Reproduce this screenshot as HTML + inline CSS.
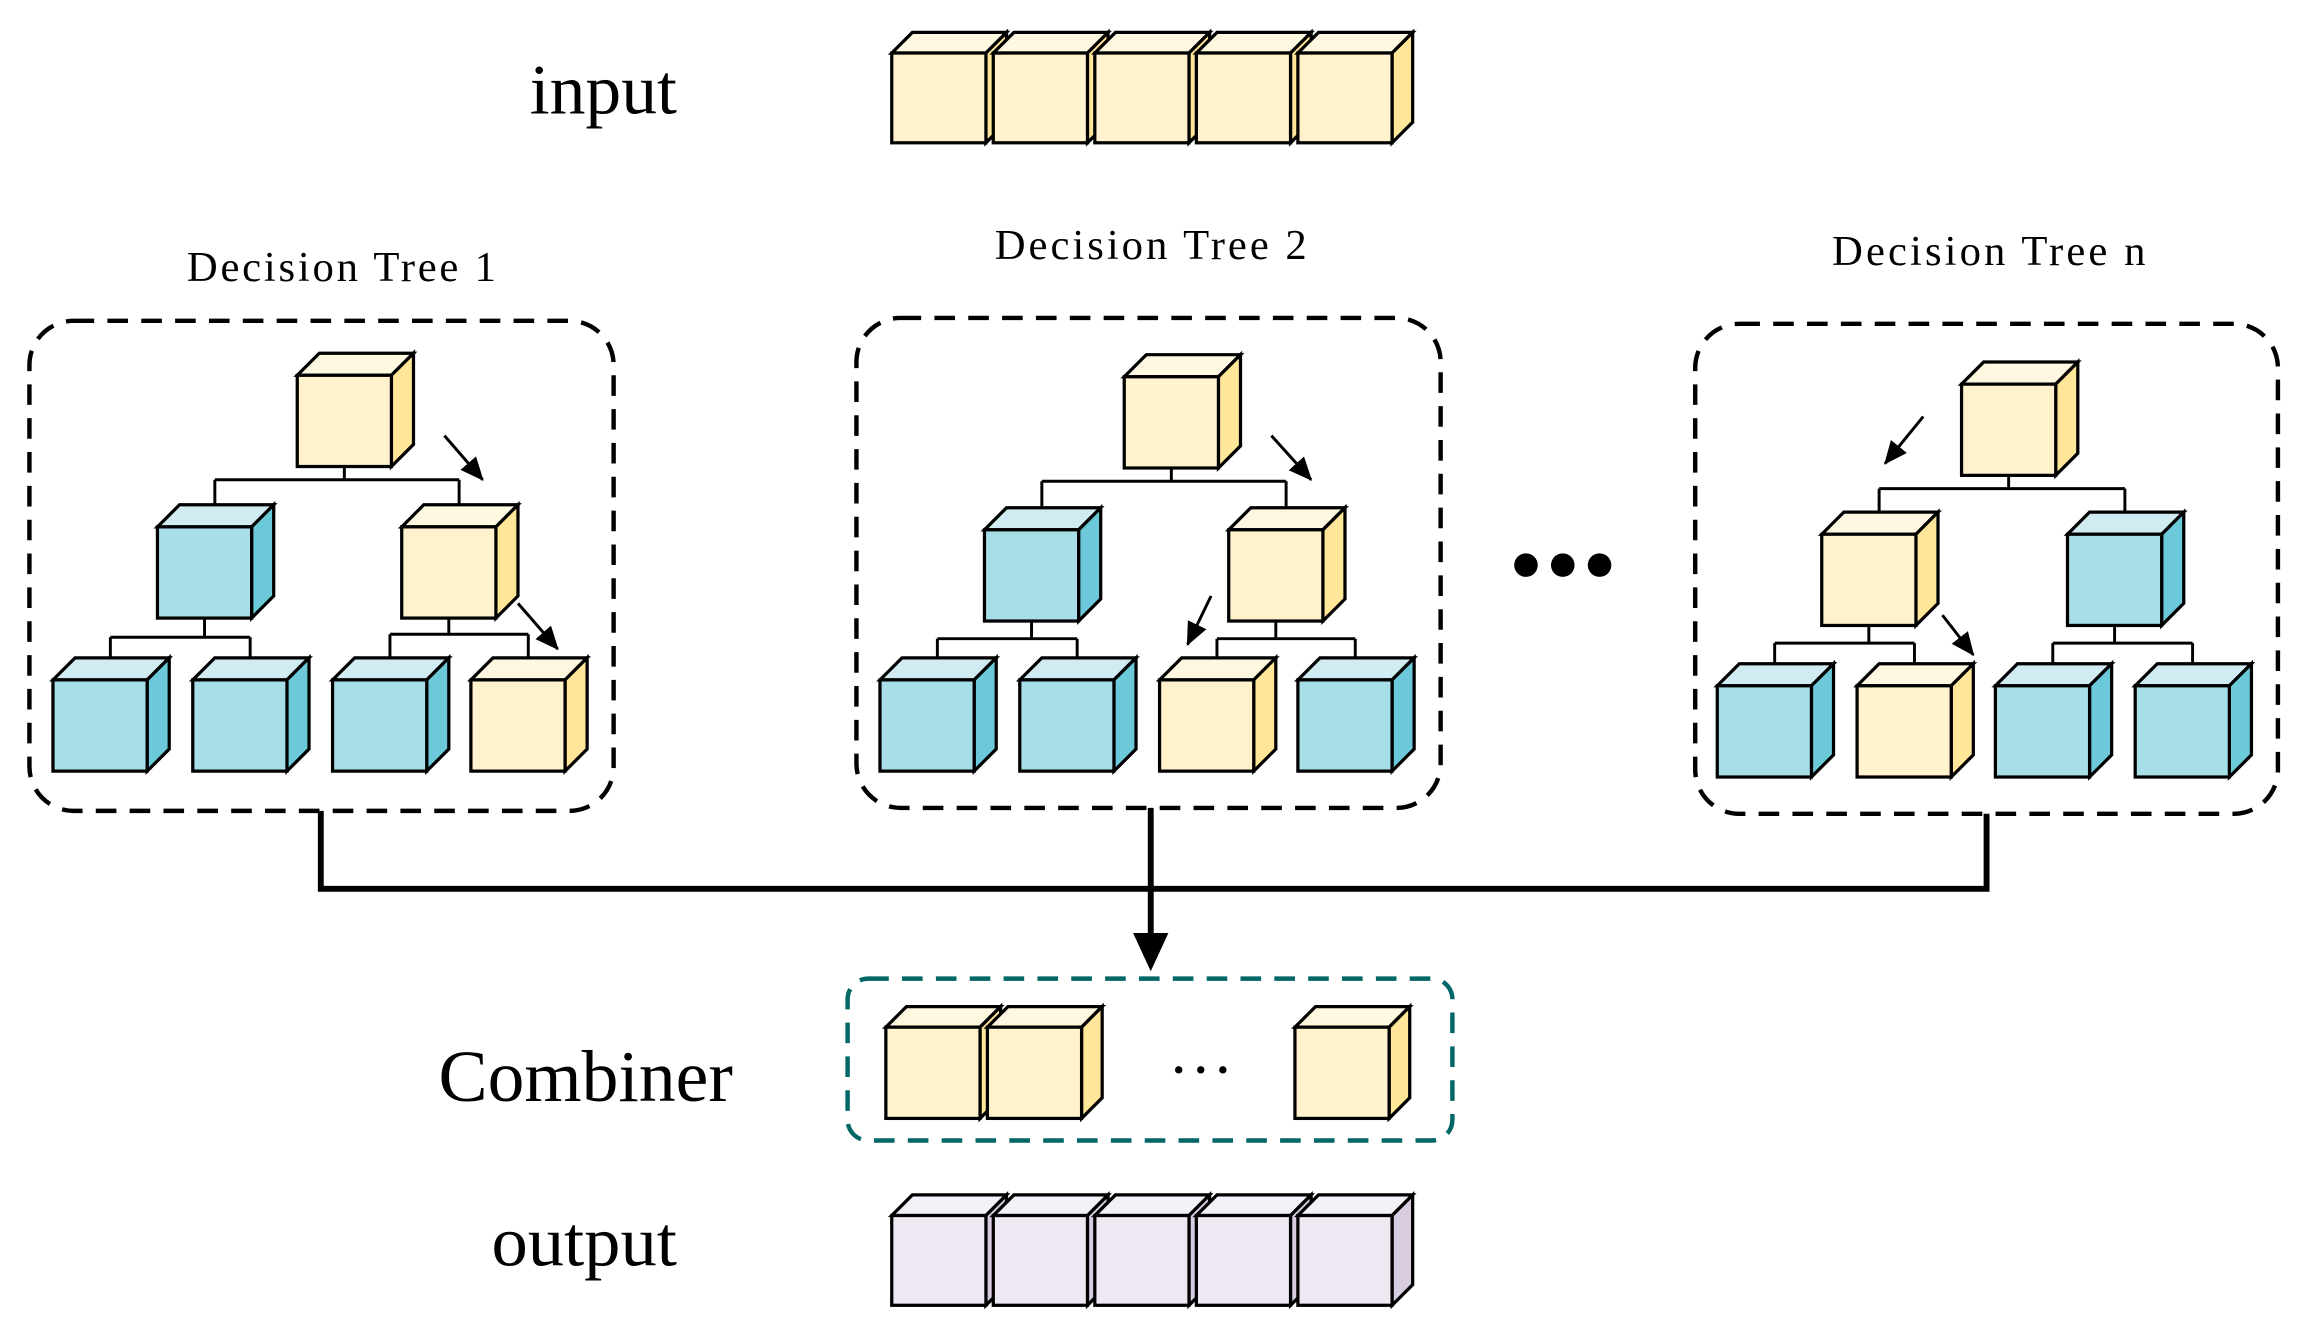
<!DOCTYPE html>
<html><head><meta charset="utf-8"><style>
html,body{margin:0;padding:0;background:#fff;}
svg{display:block;}
text{font-family:"Liberation Serif",serif;fill:#000;}
</style></head><body>
<svg id="s" width="2300" height="1323" viewBox="0 0 1563 899" xmlns="http://www.w3.org/2000/svg">
<defs><marker id="ah" markerWidth="16" markerHeight="14" refX="15" refY="7" orient="auto" markerUnits="userSpaceOnUse" viewBox="0 0 16 14"><path d="M0,0 L16,7 L0,14 z" fill="#000"/></marker></defs>
<rect width="1563" height="899" fill="#fff"/>
<text x="360" y="77" font-size="48" textLength="100" lengthAdjust="spacingAndGlyphs">input</text>
<text x="127" y="191" font-size="29" textLength="210" lengthAdjust="spacing">Decision Tree 1</text>
<text x="676" y="176" font-size="29" textLength="212" lengthAdjust="spacing">Decision Tree 2</text>
<text x="1245" y="180" font-size="29" textLength="213" lengthAdjust="spacing">Decision Tree n</text>
<text x="298" y="748" font-size="50" textLength="200" lengthAdjust="spacingAndGlyphs">Combiner</text>
<text x="334" y="860" font-size="48" textLength="126" lengthAdjust="spacingAndGlyphs">output</text>
<g fill="none" stroke="#000" stroke-width="3" stroke-dasharray="14,9">
<rect x="20" y="218" width="397" height="333" rx="30"/>
<rect x="582" y="216" width="397" height="333" rx="30"/>
<rect x="1152" y="220" width="396" height="333" rx="30"/>
</g>
<rect x="576" y="665" width="411" height="110" rx="14" fill="none" stroke="#006666" stroke-width="3" stroke-dasharray="14,9"/>
<g fill="#000"><circle cx="1037" cy="384" r="8"/><circle cx="1062" cy="384" r="8"/><circle cx="1087" cy="384" r="8"/>
<circle cx="801" cy="727" r="2.5"/><circle cx="816" cy="727" r="2.5"/><circle cx="831" cy="727" r="2.5"/></g>
<g stroke="#000" stroke-width="4" fill="none">
<path d="M218,551 V604 H1350 V553"/>
<path d="M782,549 V638"/>
</g>
<path d="M770,634 L794,634 L782,660 z" fill="#000"/>
<g id="cubes"></g>
</svg>
<script>
var g=document.getElementById('cubes'),h='';
var C={y:['#FFF2CC','#FFF8E1','#FFE699'],b:['#A8DEE8','#D0ECF2','#6CC9DA'],p:['#EEE8F2','#F4F0F7','#D8CCE0']};
function cube(x,y,c,w,hh,d){w=w||64;hh=hh||62;d=d||15;var k=C[c];
h+='<g stroke="#000" stroke-width="2.2" stroke-linejoin="miter">'+
'<path d="M'+x+','+y+' l'+d+','+(-d)+' h'+w+' l'+(-d)+','+d+' z" fill="'+k[1]+'"/>'+
'<path d="M'+(x+w)+','+y+' l'+d+','+(-d)+' v'+hh+' l'+(-d)+','+d+' z" fill="'+k[2]+'"/>'+
'<rect x="'+x+'" y="'+y+'" width="'+w+'" height="'+hh+'" fill="'+k[0]+'"/></g>';}
function line(d){h+='<path d="'+d+'" stroke="#000" stroke-width="2" fill="none"/>';}
function arr(x1,y1,x2,y2){h+='<line x1="'+x1+'" y1="'+y1+'" x2="'+x2+'" y2="'+y2+'" stroke="#000" stroke-width="2" marker-end="url(#ah)"/>';}
function tree(rx,ry,cx,cy,cc,lx,ly,lc,hy,ly1,ly2){
 var c1=cx[0]+32+7, c2=cx[1]+32+7;
 line('M'+(rx+32)+','+(ry+62)+' V'+hy+' M'+c1+','+hy+' H'+c2+' M'+c1+','+hy+' V'+(cy-15)+' M'+c2+','+hy+' V'+(cy-15));
 var p=[[cx[0],lx[0],lx[1],ly1],[cx[1],lx[2],lx[3],ly2]];
 p.forEach(function(q){var a=q[1]+32+7,b=q[2]+32+7;line('M'+(q[0]+32)+','+(cy+62)+' V'+q[3]+' M'+a+','+q[3]+' H'+b+' M'+a+','+q[3]+' V'+(ly-15)+' M'+b+','+q[3]+' V'+(ly-15));});
 cube(rx,ry,'y');
 cube(cx[0],cy,cc[0]);cube(cx[1],cy,cc[1]);
 for(var i=0;i<4;i++)cube(lx[i],ly,lc[i]);
}
tree(202,255,[107,273],358,['b','y'],[36,131,226,320],462,['b','b','b','y'],326,433,431);
tree(764,256,[669,835],360,['b','y'],[598,693,788,882],462,['b','b','y','b'],327,434,434);
tree(1333,261,[1238,1405],363,['y','b'],[1167,1262,1356,1451],466,['b','y','b','b'],332,437,437);
arr(302,296,328,326);arr(352,410,379,441);
arr(864,296,891,326);arr(823,405,807,438);
arr(1307,283,1281,315);arr(1320,418,1341,445);
[606,675,744,813,882].forEach(function(x){cube(x,36,'y',64,61,14);});
[602,671,880].forEach(function(x){cube(x,698,'y',64,62,14);});
[606,675,744,813,882].forEach(function(x){cube(x,826,'p',64,61,14);});
g.innerHTML=h;
</script>
</body></html>
